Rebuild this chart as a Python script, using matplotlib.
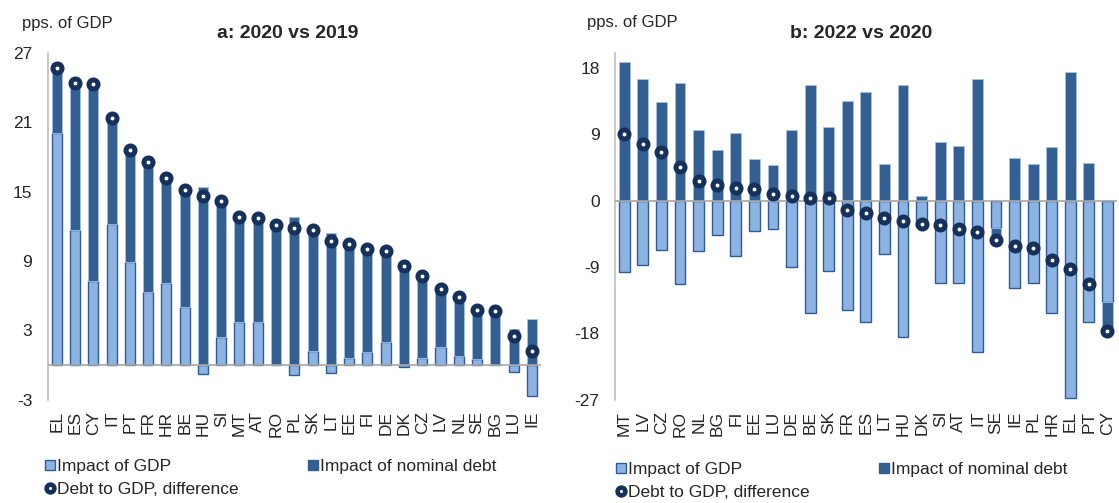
import matplotlib
matplotlib.use('Agg')
import matplotlib.pyplot as plt
from matplotlib.lines import Line2D
import numpy as np

plt.rcParams['font.family'] = ['Liberation Sans', 'DejaVu Sans']
plt.rcParams['axes.unicode_minus'] = False

# Panel a: 2020 vs 2019
cats_a = ['EL', 'ES', 'CY', 'IT', 'PT', 'FR', 'HR', 'BE', 'HU', 'SI', 'MT', 'AT', 'RO', 'PL',
          'SK', 'LT', 'EE', 'FI', 'DE', 'DK', 'CZ', 'LV', 'NL', 'SE', 'BG', 'LU', 'IE']
gdp_a = [20.1, 11.7, 7.3, 12.2, 8.9, 6.3, 7.1, 5.0, -0.8, 2.4, 3.7, 3.7, 0.0, -0.85,
         1.2, -0.65, 0.6, 1.1, 2.0, -0.2, 0.6, 1.6, 0.8, 0.5, 0.0, -0.6, -2.7]
debt_a = [6.0, 12.8, 17.1, 9.3, 9.8, 11.4, 9.2, 10.2, 15.4, 11.9, 9.1, 9.0, 12.1, 12.8,
          10.5, 11.4, 9.9, 8.9, 7.9, 8.7, 7.2, 5.0, 5.1, 4.3, 4.75, 3.15, 3.95]
diff_a = [25.7, 24.4, 24.3, 21.4, 18.6, 17.6, 16.2, 15.1, 14.6, 14.2, 12.8, 12.7, 12.1, 11.9,
          11.65, 10.7, 10.5, 10.0, 9.85, 8.6, 7.75, 6.55, 5.9, 4.8, 4.7, 2.5, 1.25]

# Panel b: 2022 vs 2020
cats_b = ['MT', 'LV', 'CZ', 'RO', 'NL', 'BG', 'FI', 'EE', 'LU', 'DE', 'BE', 'SK', 'FR', 'ES',
          'LT', 'HU', 'DK', 'SI', 'AT', 'IT', 'SE', 'IE', 'PL', 'HR', 'EL', 'PT', 'CY']
gdp_b = [-9.7, -8.8, -6.7, -11.3, -6.8, -4.7, -7.5, -4.1, -3.8, -9.0, -15.3, -9.6, -14.8, -16.4,
         -7.3, -18.5, -3.5, -11.2, -11.2, -20.5, -3.7, -11.8, -11.2, -15.3, -26.8, -16.4, -13.8]
debt_b = [18.7, 16.4, 13.4, 15.9, 9.5, 6.8, 9.2, 5.6, 4.8, 9.5, 15.7, 10.0, 13.5, 14.7,
          4.9, 15.7, 0.6, 7.9, 7.4, 16.4, -1.7, 5.8, 4.9, 7.3, 17.4, 5.1, -3.9]
diff_b = [9.0, 7.6, 6.6, 4.5, 2.6, 2.1, 1.7, 1.5, 0.9, 0.6, 0.4, 0.4, -1.3, -1.7,
          -2.4, -2.8, -3.2, -3.3, -3.8, -4.2, -5.4, -6.1, -6.4, -8.1, -9.3, -11.3, -17.7]

LIGHT = '#8db3e2'
LIGHT_EDGE = '#2f5c97'
DARK = '#335f92'
DOT = '#14305b'
TXT = '#262626'

fig = plt.figure(figsize=(11.19, 5.03), dpi=100)


def draw_panel(ax, cats, gdp, debt, diff, yticks, ylim, width):
    x = np.arange(len(cats))
    gdp = np.array(gdp)
    debt = np.array(debt)
    # stack positives above zero and negatives below, like excel does
    base = np.where(debt >= 0, np.maximum(gdp, 0), np.minimum(gdp, 0))
    ax.bar(x, gdp, width, color=LIGHT, edgecolor=LIGHT_EDGE, linewidth=1.0, zorder=2)
    ax.bar(x, debt, width, bottom=base, color=DARK, edgecolor='#a9c1de', linewidth=0.6, zorder=2)
    ax.axhline(0, color='#a6a6a6', linewidth=1.2, zorder=3)
    ax.plot(x, diff, 'o', ms=6.5, mfc='white', mec=DOT, mew=3.6, zorder=4)

    ax.set_xlim(-0.5, len(cats) - 0.5)
    ax.set_ylim(*ylim)
    ax.set_yticks(yticks)
    ax.set_xticks(x)
    ax.set_xticklabels(cats, rotation=90, fontsize=12.5, color=TXT)
    ax.tick_params(axis='x', length=0, pad=8)
    ax.tick_params(axis='y', length=0, pad=11, labelsize=12.5, labelcolor=TXT)
    for s in ['top', 'right', 'bottom']:
        ax.spines[s].set_visible(False)
    ax.spines['left'].set_color('#bfbfbf')
    ax.spines['left'].set_linewidth(1.2)


ax1 = fig.add_axes([0.0425, 0.205, 0.441, 0.690])
draw_panel(ax1, cats_a, gdp_a, debt_a, diff_a, [-3, 3, 9, 15, 21, 27], (-3, 27), 0.55)

ax2 = fig.add_axes([0.5496, 0.205, 0.4484, 0.690])
draw_panel(ax2, cats_b, gdp_b, debt_b, diff_b, [-27, -18, -9, 0, 9, 18], (-27, 20), 0.58)

fig.text(22 / 1119, 1 - 24 / 503, 'pps. of GDP', fontsize=12, color=TXT, va='center')
fig.text(587 / 1119, 1 - 22 / 503, 'pps. of GDP', fontsize=12, color=TXT, va='center')
fig.text(288 / 1119, 1 - 33 / 503, 'a: 2020 vs 2019', fontsize=14, weight='bold',
         color=TXT, ha='center', va='center')
fig.text(861 / 1119, 1 - 33 / 503, 'b: 2022 vs 2020', fontsize=14, weight='bold',
         color=TXT, ha='center', va='center')

h_gdp = Line2D([], [], ls='none', marker='s', ms=7.5, mfc=LIGHT, mec=LIGHT_EDGE, mew=1)
h_debt = Line2D([], [], ls='none', marker='s', ms=7.5, mfc=DARK, mec=DARK, mew=1)
h_dot = Line2D([], [], ls='none', marker='o', ms=5.6, mfc='white', mec=DOT, mew=3.3)

for x0, y0 in [(45 / 1119, 1 - 459 / 503), (616 / 1119, 1 - 462 / 503)]:
    leg = fig.legend([h_gdp, h_dot, h_debt],
                     ['Impact of GDP', 'Debt to GDP, difference', 'Impact of nominal debt'],
                     loc='upper left', bbox_to_anchor=(x0, y0), ncol=2, frameon=False,
                     fontsize=12.5, handlelength=0.6, handletextpad=0.1, columnspacing=3.95,
                     labelspacing=0.45, borderaxespad=0, borderpad=0)
    for t in leg.get_texts():
        t.set_color(TXT)

fig.savefig('out.png', dpi=100)
